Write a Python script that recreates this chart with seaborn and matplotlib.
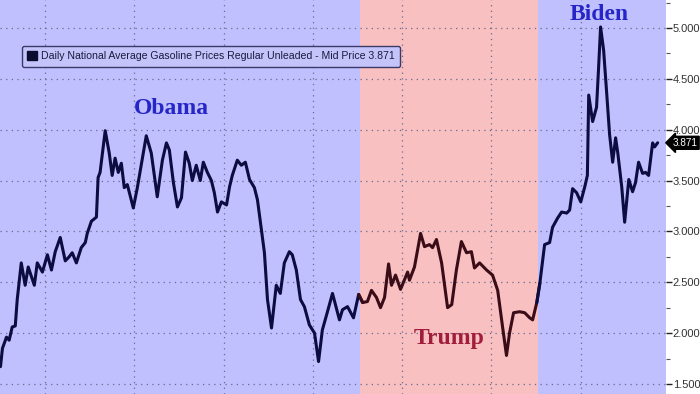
import pandas as pd
import seaborn as sns
import matplotlib.pyplot as plt
from matplotlib.patches import Patch

# daily national average gasoline price
dates = [
    "2009-01-01", "2009-01-17", "2009-02-19", "2009-03-13", "2009-04-07", "2009-05-02",
    "2009-05-18", "2009-06-20", "2009-07-22", "2009-08-16", "2009-10-05", "2009-10-29",
    "2009-12-10", "2010-01-20", "2010-02-22", "2010-03-25", "2010-05-05", "2010-06-15",
    "2010-07-17", "2010-08-11", "2010-09-14", "2010-10-24", "2010-11-26", "2010-12-12",
    "2011-01-15", "2011-02-25", "2011-03-11", "2011-03-27", "2011-05-08", "2011-06-10",
    "2011-07-04", "2011-07-28", "2011-08-23", "2011-09-17", "2011-10-11", "2011-11-05",
    "2011-12-24", "2012-01-26", "2012-04-08", "2012-05-19", "2012-07-07", "2012-08-18",
    "2012-09-20", "2012-10-14", "2012-11-16", "2012-12-19", "2013-01-21", "2013-02-23",
    "2013-03-26", "2013-04-20", "2013-05-22", "2013-06-24", "2013-07-19", "2013-08-21",
    "2013-09-23", "2013-10-17", "2013-11-12", "2013-12-14", "2014-01-25", "2014-02-19",
    "2014-03-13", "2014-04-23", "2014-05-26", "2014-06-28", "2014-08-01", "2014-09-10",
    "2014-10-05", "2014-11-07", "2014-12-01", "2014-12-26", "2015-01-28", "2015-03-08",
    "2015-04-10", "2015-05-13", "2015-06-23", "2015-07-17", "2015-08-19", "2015-09-22",
    "2015-10-24", "2015-12-04", "2016-01-15", "2016-02-17", "2016-03-19", "2016-04-30",
    "2016-06-10", "2016-08-06", "2016-08-31", "2016-10-11", "2016-11-29", "2017-01-10",
    "2017-02-12", "2017-03-23", "2017-04-25", "2017-06-05", "2017-07-08", "2017-08-10",
    "2017-09-12", "2017-10-06", "2017-11-08", "2017-12-19", "2018-02-15", "2018-03-02",
    "2018-04-12", "2018-06-01", "2018-07-03", "2018-08-13", "2018-09-07", "2018-10-09",
    "2018-11-20", "2019-01-08", "2019-02-11", "2019-03-21", "2019-05-01", "2019-06-12",
    "2019-07-22", "2019-08-16", "2019-09-27", "2019-11-23", "2020-01-11", "2020-02-22",
    "2020-04-02", "2020-05-04", "2020-05-29", "2020-07-01", "2020-08-19", "2020-09-30",
    "2020-11-10", "2020-12-04", "2021-01-07", "2021-02-01", "2021-03-12", "2021-04-22",
    "2021-05-16", "2021-06-26", "2021-07-29", "2021-09-09", "2021-10-03", "2021-10-27",
    "2021-11-29", "2022-01-02", "2022-02-04", "2022-02-25", "2022-03-08", "2022-04-09",
    "2022-05-11", "2022-05-27", "2022-06-13", "2022-07-08", "2022-08-02", "2022-08-26",
    "2022-09-20", "2022-10-14", "2022-11-01", "2022-12-03", "2022-12-27", "2023-01-30",
    "2023-03-02", "2023-03-26", "2023-04-20", "2023-05-23", "2023-06-16", "2023-07-11",
    "2023-08-13", "2023-08-29", "2023-09-23",
]
prices = [
    1.67, 1.85, 1.96, 1.93, 2.06, 2.07,
    2.33, 2.69, 2.47, 2.65, 2.47, 2.69,
    2.60, 2.77, 2.62, 2.80, 2.94, 2.71,
    2.75, 2.79, 2.69, 2.84, 2.89, 2.98,
    3.10, 3.14, 3.53, 3.58, 3.99, 3.77,
    3.55, 3.72, 3.58, 3.67, 3.43, 3.46,
    3.23, 3.43, 3.94, 3.77, 3.34, 3.70,
    3.87, 3.80, 3.48, 3.24, 3.33, 3.78,
    3.67, 3.50, 3.65, 3.50, 3.68, 3.58,
    3.50, 3.38, 3.19, 3.29, 3.26, 3.44,
    3.55, 3.70, 3.65, 3.68, 3.51, 3.43,
    3.31, 3.01, 2.79, 2.33, 2.05, 2.47,
    2.39, 2.69, 2.80, 2.77, 2.62, 2.33,
    2.26, 2.08, 2.00, 1.72, 2.03, 2.21,
    2.39, 2.13, 2.23, 2.26, 2.15, 2.38,
    2.30, 2.31, 2.42, 2.35, 2.25, 2.35,
    2.68, 2.47, 2.57, 2.43, 2.60, 2.52,
    2.65, 2.98, 2.85, 2.87, 2.84, 2.92,
    2.69, 2.25, 2.28, 2.62, 2.90, 2.79,
    2.80, 2.64, 2.69, 2.62, 2.57, 2.42,
    2.06, 1.78, 2.00, 2.20, 2.21, 2.20,
    2.15, 2.13, 2.30, 2.49, 2.87, 2.89,
    3.04, 3.13, 3.19, 3.18, 3.21, 3.42,
    3.38, 3.29, 3.44, 3.55, 4.34, 4.08,
    4.22, 4.59, 5.01, 4.78, 4.36, 3.95,
    3.68, 3.92, 3.77, 3.44, 3.09, 3.51,
    3.39, 3.48, 3.68, 3.57, 3.58, 3.55,
    3.87, 3.83, 3.871,
]

presidents = ["Obama", "Trump", "Biden"]
terms = [("2009-01-01", "2017-01-20"), ("2017-01-20", "2021-01-20"), ("2021-01-20", "2023-12-31")]
last_price = 3.871
yticks = [1.5, 2.0, 2.5, 3.0, 3.5, 4.0, 4.5, 5.0]

df = pd.DataFrame({"date": pd.to_datetime(dates), "price": prices})

bg = {"Obama": "#c0c0ff", "Trump": "#f8c0c0", "Biden": "#c0c0ff"}
line_cols = {"Obama": "#0c0c40", "Trump": "#3a0c18", "Biden": "#0c0c40"}
label_cols = {"Obama": "#2626c8", "Trump": "#a01e3c", "Biden": "#2626c8"}

sns.set_style("white")
plt.rcParams["font.family"] = ["Liberation Sans", "DejaVu Sans"]

fig = plt.figure(figsize=(7, 3.94), dpi=100)
ax = fig.add_axes([0, 0, 0.951, 1])

for name, (a, b) in zip(presidents, terms):
    ax.axvspan(pd.Timestamp(a), pd.Timestamp(b), color=bg[name], lw=0, zorder=0)

# one segment per term, sharing the boundary points so the line stays joined
parts = []
for name, (a, b) in zip(presidents, terms):
    a, b = pd.Timestamp(a), pd.Timestamp(b)
    seg = df[(df["date"] >= a) & (df["date"] <= b)].copy()
    before = df[df["date"] < a].tail(1)
    after = df[df["date"] > b].head(1)
    seg = pd.concat([before, seg, after])
    seg["era"] = name
    parts.append(seg)
plot_df = pd.concat(parts, ignore_index=True)

sns.lineplot(data=plot_df, x="date", y="price", hue="era", palette=line_cols,
             linewidth=2.2, legend=False, ax=ax, zorder=3, estimator=None, sort=False)

ax.set_xlim(pd.Timestamp("2008-12-28"), pd.Timestamp("2023-11-28"))
ax.set_ylim(1.401, 5.275)
ax.set_xlabel("")
ax.set_ylabel("")

ax.set_xticks([pd.Timestamp(f"{y}-01-01") for y in range(2010, 2024, 2)])
ax.tick_params(axis="x", bottom=False, labelbottom=False)

ax.yaxis.tick_right()
ax.set_yticks(yticks)
ax.set_yticks([v + 0.25 for v in yticks], minor=True)
ax.set_yticklabels([f"{v:.3f}" for v in yticks])
ax.tick_params(axis="y", which="major", right=True, length=4, width=1, color="#222222",
               labelsize=8, pad=1, labelcolor="#333333")
ax.tick_params(axis="y", which="minor", right=True, length=3, width=0.8, color="#555555")

ax.grid(True, which="major", color="#6a6a90", linestyle=(0, (1, 3.5)), linewidth=0.9, zorder=1)
ax.set_axisbelow(True)
for s in ax.spines.values():
    s.set_visible(False)

# president labels
ax.text(pd.Timestamp("2012-11-01"), 4.21, "Obama", color=label_cols["Obama"], fontsize=17,
        fontweight="bold", family="Liberation Serif", ha="center", va="center", zorder=4)
ax.text(pd.Timestamp("2019-01-20"), 1.95, "Trump", color=label_cols["Trump"], fontsize=17,
        fontweight="bold", family="Liberation Serif", ha="center", va="center", zorder=4)
ax.text(pd.Timestamp("2022-06-01"), 5.13, "Biden", color=label_cols["Biden"], fontsize=17,
        fontweight="bold", family="Liberation Serif", ha="center", va="center", zorder=4)

# series legend box
handle = Patch(facecolor="#0c0c30", edgecolor="#0c0c30")
leg = ax.legend([handle], [f"Daily National Average Gasoline Prices Regular Unleaded - Mid Price {last_price:.3f}"],
                loc="upper left", bbox_to_anchor=(0.033, 0.883), borderaxespad=0,
                fontsize=7.6, frameon=True, fancybox=True, handlelength=0.9, handleheight=0.9,
                handletextpad=0.4, borderpad=0.5, framealpha=1)
leg.get_frame().set_facecolor("#c4c4fa")
leg.get_frame().set_edgecolor("#3a3a6a")
leg.get_frame().set_linewidth(1.0)
for t in leg.get_texts():
    t.set_color("#1a1a40")

# last value tag
ax.annotate(f"{last_price:.3f}", xy=(1.0, last_price), xycoords=("axes fraction", "data"),
            xytext=(5, 0), textcoords="offset points", ha="left", va="center",
            fontsize=7.2, color="white", annotation_clip=False,
            bbox=dict(boxstyle="larrow,pad=0.15", fc="black", ec="black"))

plt.savefig("out.png", dpi=100)
